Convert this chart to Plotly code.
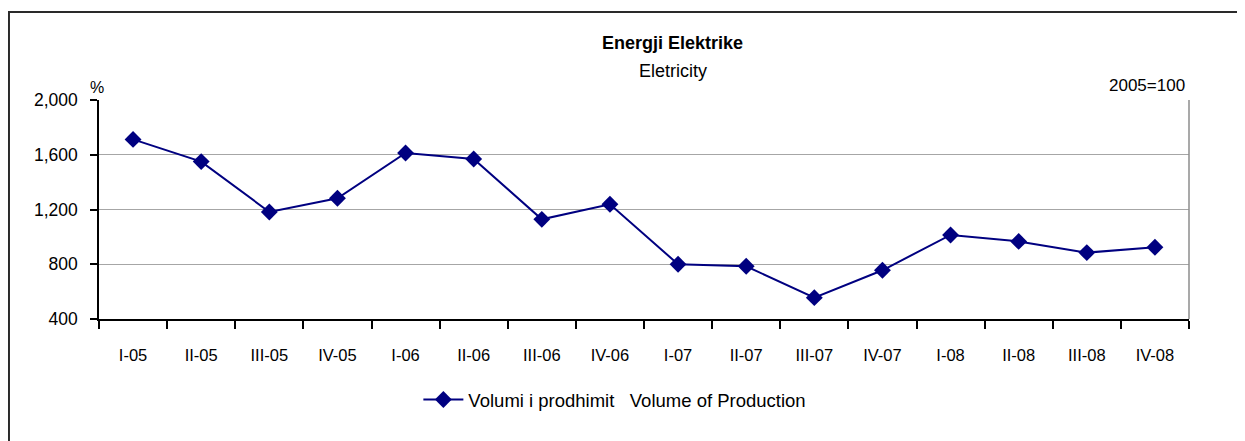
import plotly.graph_objects as go

categories = ["I-05", "II-05", "III-05", "IV-05", "I-06", "II-06", "III-06", "IV-06",
              "I-07", "II-07", "III-07", "IV-07", "I-08", "II-08", "III-08", "IV-08"]
volume = [1712, 1550, 1182, 1282, 1613, 1569, 1128, 1238,
          800, 785, 556, 756, 1014, 967, 885, 924]
y_ticks = [400, 800, 1200, 1600, 2000]
series_name = "Volumi i prodhimit\u00a0\u00a0\u00a0Volume of Production"

FONT = "Liberation Sans, Arial, sans-serif"
NAVY = "#000080"

fig = go.Figure()
fig.add_trace(go.Scatter(
    x=categories, y=volume, mode="lines+markers", name=series_name,
    line=dict(color=NAVY, width=2),
    marker=dict(symbol="diamond", size=13, color=NAVY),
    showlegend=True,
))

fig.update_layout(
    width=1237, height=433,
    margin=dict(l=91, r=56, t=92, b=122, pad=0),
    paper_bgcolor="white", plot_bgcolor="white",
    font=dict(family=FONT, size=17, color="black"),
    showlegend=True,
    legend=dict(orientation="h", x=0.293, y=-0.37, xanchor="left", yanchor="middle",
                font=dict(family=FONT, size=18.5, color="black"),
                bgcolor="rgba(0,0,0,0)", itemwidth=40),
    xaxis=dict(
        type="category", range=[-0.5, len(categories) - 0.5],
        tickson="boundaries", ticks="outside", ticklen=8,
        tickcolor="black", tickwidth=1.5,
        showline=True, linecolor="black", linewidth=1.5,
        showgrid=False, ticklabelstandoff=20,
        tickfont=dict(family=FONT, size=16.5, color="black"),
    ),
    yaxis=dict(
        range=[400, 2000], tickvals=y_ticks, tickformat=",",
        ticks="outside", ticklen=7, tickcolor="black", tickwidth=1.5,
        showline=True, linecolor="black", linewidth=1.5,
        showgrid=True, gridcolor="#a6a6a6", gridwidth=1.2,
        zeroline=False, ticklabelstandoff=9,
        tickfont=dict(family=FONT, size=17.5, color="black"),
    ),
    shapes=[
        dict(type="rect", xref="paper", yref="paper", x0=-0.0826, x1=1.3, y0=-1.0, y1=1.4018,
             line=dict(color="#2a2a2a", width=2), fillcolor="rgba(0,0,0,0)", layer="below"),
        dict(type="line", xref="paper", yref="paper", x0=1, x1=1, y0=0, y1=1,
             line=dict(color="#8c8c8c", width=1.5)),
    ],
    annotations=[
        dict(text="<b>Energji Elektrike</b>", xref="paper", yref="paper", x=0.5257, y=1.26,
             xanchor="center", yanchor="middle", showarrow=False,
             font=dict(family=FONT, size=18, color="black")),
        dict(text="Eletricity", xref="paper", yref="paper", x=0.5266, y=1.1324,
             xanchor="center", yanchor="middle", showarrow=False,
             font=dict(family=FONT, size=18, color="black")),
        dict(text="%", xref="paper", yref="paper", x=-0.0018, y=1.059,
             xanchor="center", yanchor="middle", showarrow=False,
             font=dict(family=FONT, size=16, color="black")),
        dict(text="2005=100", xref="paper", yref="paper", x=0.998, y=1.064,
             xanchor="right", yanchor="middle", showarrow=False,
             font=dict(family=FONT, size=17, color="black")),
    ],
)

fig.write_html("out.html")
